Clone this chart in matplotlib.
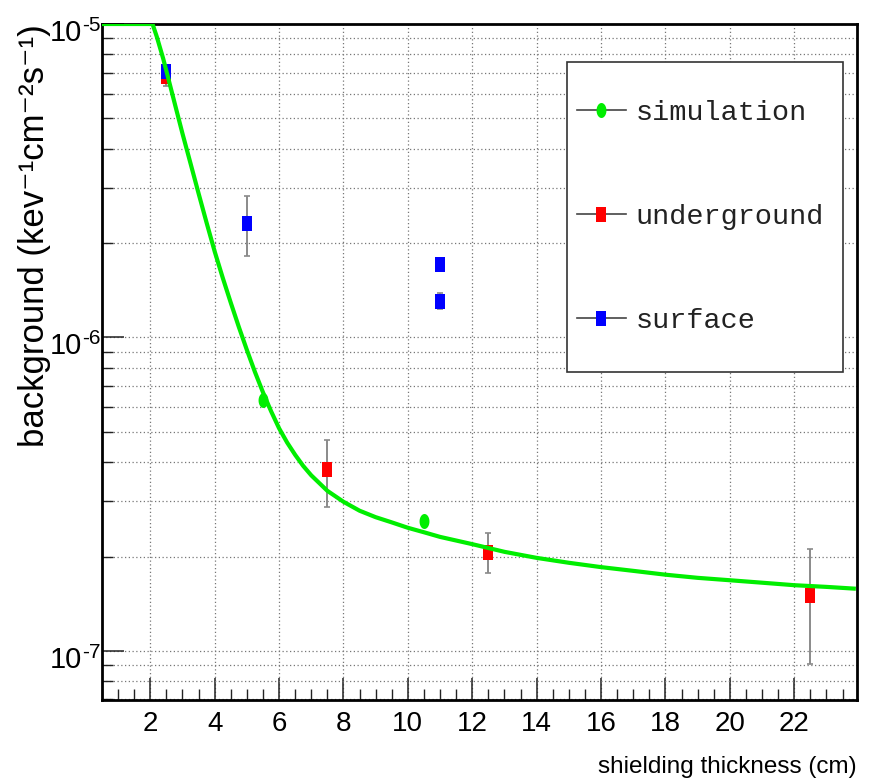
import numpy as np
import matplotlib
matplotlib.use("Agg")
import matplotlib.pyplot as plt
from matplotlib.path import Path
from matplotlib.lines import Line2D
from matplotlib.patches import Rectangle
from matplotlib.ticker import FixedLocator, MultipleLocator, NullFormatter

# shielding scan: background rate vs lead thickness
curve_x = [0.5, 2.07, 2.2, 2.4, 2.6, 2.8, 3.0, 3.25, 3.5, 3.75, 4.0, 4.25, 4.5, 4.75,
           5.0, 5.25, 5.5, 5.75, 6.0, 6.25, 6.5, 6.75, 7.0, 7.5, 8.0, 8.5, 9.0, 9.5,
           10.0, 10.5, 11.0, 12.0, 13.0, 14.0, 15.0, 16.0, 17.0, 18.0, 19.0, 20.0,
           21.0, 22.0, 23.0, 23.85]
curve_y = [1e-5, 1e-5, 9.12e-6, 7.76e-6, 6.46e-6, 5.37e-6, 4.47e-6, 3.59e-6, 2.88e-6,
           2.32e-6, 1.88e-6, 1.55e-6, 1.29e-6, 1.08e-6, 9.12e-7, 7.76e-7, 6.68e-7,
           5.82e-7, 5.13e-7, 4.62e-7, 4.22e-7, 3.89e-7, 3.63e-7, 3.24e-7, 2.99e-7,
           2.80e-7, 2.67e-7, 2.57e-7, 2.47e-7, 2.39e-7, 2.31e-7, 2.19e-7, 2.07e-7,
           1.98e-7, 1.91e-7, 1.85e-7, 1.80e-7, 1.75e-7, 1.71e-7, 1.68e-7, 1.65e-7,
           1.62e-7, 1.60e-7, 1.58e-7]

sim_x = [5.5, 10.5]
sim_y = [6.3e-7, 2.6e-7]

ug_x = [2.5, 7.5, 12.5, 22.5]
ug_y = [6.8e-6, 3.8e-7, 2.07e-7, 1.51e-7]
ug_err = [0.45e-6, 0.92e-7, 0.30e-7, 0.60e-7]

sf_x = [2.5, 5.0, 11.0, 11.0]
sf_y = [7.1e-6, 2.32e-6, 1.72e-6, 1.31e-6]
sf_err = [0.15e-6, 0.50e-6, 0.0, 0.08e-6]

labels = ["simulation", "underground", "surface"]
ytick_vals = [1e-7, 1e-6, 1e-5]
ytick_exp = ["-7", "-6", "-5"]

SANS = ["Liberation Sans", "DejaVu Sans"]
plt.rcParams["font.family"] = SANS

# tall markers, like the stretched ROOT canvas
box = Path([(-0.31, -0.5), (0.31, -0.5), (0.31, 0.5), (-0.31, 0.5), (-0.31, -0.5)],
           [Path.MOVETO, Path.LINETO, Path.LINETO, Path.LINETO, Path.CLOSEPOLY])
t = np.linspace(0, 2 * np.pi, 40)
oval = Path(np.column_stack([0.33 * np.cos(t), 0.5 * np.sin(t)]))

fig = plt.figure(figsize=(8.7, 7.83), dpi=100)
ax = fig.add_axes([102 / 870, 83 / 783, 755 / 870, 676 / 783])

def points(x, y, err, color, z):
    eb = ax.errorbar(x, y, yerr=err, fmt="none", ecolor="#8a8a8a", elinewidth=1.4,
                     capsize=2.5, capthick=1.2, zorder=z)
    for cap in eb[1]:
        cap.set_color("#333333")
    ax.plot(x, y, ls="none", marker=box, ms=10.8, mfc=color, mec=color, mew=0, zorder=z + 0.5)

points(ug_x, ug_y, ug_err, "#ff0000", 3)
points(sf_x, sf_y, sf_err, "#0000ff", 4)
ax.plot(sim_x, sim_y, ls="none", marker=oval, ms=10.8, mfc="#00ee00", mec="#00ee00",
        mew=0, zorder=5)
ax.plot(curve_x, curve_y, color="#00ee00", lw=3, zorder=6, solid_joinstyle="round")

ax.set_yscale("log")
ax.set_xlim(0.5, 23.95)
ax.set_ylim(6.97e-8, 1e-5)

ax.xaxis.set_major_locator(FixedLocator(np.arange(2, 23, 2)))
ax.xaxis.set_minor_locator(MultipleLocator(0.5))
ax.yaxis.set_major_locator(FixedLocator(ytick_vals))
ax.yaxis.set_major_formatter(NullFormatter())
ax.yaxis.set_minor_locator(FixedLocator(
    [m * 10.0 ** e for e in (-8, -7, -6) for m in range(2, 10)]))
ax.yaxis.set_minor_formatter(NullFormatter())

ax.tick_params(which="both", direction="in", top=False, right=False, color="#222222")
ax.tick_params(which="major", length=16, width=1.1, labelsize=20, pad=8)
ax.tick_params(which="minor", length=8, width=1.0)

# decade labels, ROOT style: "10" with a raised exponent
for v, e in zip(ytick_vals, ytick_exp):
    ax.annotate("10", xy=(0, v), xycoords=("axes fraction", "data"),
                xytext=(-14.4, -12.2), textcoords="offset points",
                ha="right", va="baseline", fontsize=21)
    ax.annotate(e, xy=(0, v), xycoords=("axes fraction", "data"),
                xytext=(-14, -5), textcoords="offset points",
                ha="left", va="baseline", fontsize=15)

ax.grid(which="major", axis="x", ls=(0, (1, 2)), color="#777777", lw=0.9)
ax.grid(which="both", axis="y", ls=(0, (1, 2)), color="#777777", lw=0.9)

for sp in ax.spines.values():
    sp.set_linewidth(2)
    sp.set_color("black")

ax.set_xlabel("shielding thickness (cm)", loc="right", fontsize=17.5, va="top")
ax.xaxis.set_label_coords(1.0, -0.083)
ax.set_ylabel("background (kev⁻¹cm⁻²s⁻¹)", loc="top", fontsize=25)
ax.yaxis.set_label_coords(-0.0675, 1.0)

# legend: box drawn separately so the row placement can be set freely
ax.add_patch(Rectangle((0.616, 0.485), 0.365, 0.459, transform=ax.transAxes,
                       facecolor="white", edgecolor="#333333", lw=1.2, zorder=7))
handles = [
    Line2D([], [], color="#444444", lw=1.2, marker=oval, ms=10.8, mfc="#00ee00", mec="#00ee00", mew=0),
    Line2D([], [], color="#444444", lw=1.2, marker=box, ms=10.8, mfc="#ff0000", mec="#ff0000", mew=0),
    Line2D([], [], color="#444444", lw=1.2, marker=box, ms=10.8, mfc="#0000ff", mec="#0000ff", mew=0),
]
leg = ax.legend(handles, labels, loc="upper left", bbox_to_anchor=(0.629, 0.888),
                frameon=False, borderaxespad=0, borderpad=0, labelspacing=2.75,
                handlelength=1.72, handletextpad=0.35,
                prop={"family": ["Liberation Mono", "DejaVu Sans Mono"], "size": 20.5})
leg.set_zorder(8)
for txt in leg.get_texts():
    txt.set_color("#222222")

fig.savefig("out.png", dpi=100)
